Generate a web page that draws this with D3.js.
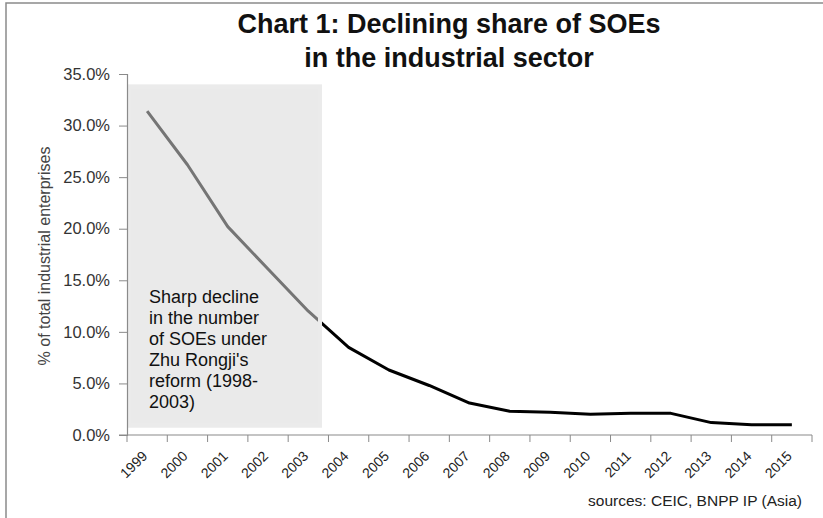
<!DOCTYPE html>
<html>
<head>
<meta charset="utf-8">
<script src="https://cdn.jsdelivr.net/npm/d3@7"></script>
<style>
  body { margin: 0; background: #fff; }
  text { font-family: "Liberation Sans", Arial, sans-serif; }
</style>
</head>
<body>
<div id="chart"></div>
<script>
const years = ['1999', '2000', '2001', '2002', '2003', '2004', '2005', '2006', '2007',
    '2008', '2009', '2010', '2011', '2012', '2013', '2014', '2015'];
// % of total industrial enterprises that are SOEs
const soeShare = [31.4, 26.2, 20.2, 16.1, 12.0, 8.5, 6.3, 4.8, 3.1,
    2.3, 2.2, 2.0, 2.1, 2.1, 1.2, 1.0, 1.0];
const yTicks = [0, 5, 10, 15, 20, 25, 30, 35];
const titleLines = ['Chart 1: Declining share of SOEs', 'in the industrial sector'];
const noteLines = ['Sharp decline', 'in the number', 'of SOEs under', "Zhu Rongji's", 'reform (1998-', '2003)'];
const source = 'sources: CEIC, BNPP IP (Asia)';

const width = 823, height = 518;
const plotLeft = 127, plotRight = 812, plotTop = 74, plotBottom = 435;

const svg = d3.select('#chart')
    .append('svg')
    .attr('width', width)
    .attr('height', height);

svg.append('rect')
    .attr('width', width)
    .attr('height', height)
    .attr('fill', '#fff');

// frame (cropped at right / bottom)
svg.append('rect')
    .attr('x', 6)
    .attr('y', 3)
    .attr('width', width + 20)
    .attr('height', height + 20)
    .attr('fill', 'none')
    .attr('stroke', '#8a8a8a')
    .attr('stroke-width', 1.5);

const x = d3.scaleBand()
    .domain(years)
    .range([plotLeft, plotRight]);

const y = d3.scaleLinear()
    .domain([0, 35])
    .range([plotBottom, plotTop]);

// title
svg.selectAll('.title')
    .data(titleLines)
    .enter()
    .append('text')
    .attr('class', 'title')
    .attr('x', 449)
    .attr('y', (d, i) => 33 + i * 34)
    .attr('text-anchor', 'middle')
    .attr('font-size', 27)
    .attr('font-weight', 'bold')
    .attr('fill', '#111')
    .text(d => d);

// series line
const line = d3.line()
    .x((d, i) => x(years[i]) + x.bandwidth() / 2)
    .y(d => y(d));

svg.append('path')
    .datum(soeShare)
    .attr('fill', 'none')
    .attr('stroke', '#000')
    .attr('stroke-width', 3)
    .attr('stroke-linejoin', 'round')
    .attr('d', line);

// translucent box over the reform years
svg.append('rect')
    .attr('x', x('1999') + 2)
    .attr('y', y(33.8))
    .attr('width', x('2003') + x.bandwidth() * 0.79 - x('1999') - 2)
    .attr('height', y(0.9) - y(33.8))
    .attr('fill', 'rgba(217,217,217,0.54)')
    .attr('stroke', '#ebebeb')
    .attr('stroke-width', 4);

svg.selectAll('.note')
    .data(noteLines)
    .enter()
    .append('text')
    .attr('class', 'note')
    .attr('x', 149)
    .attr('y', (d, i) => 303 + i * 21)
    .attr('font-size', 18)
    .attr('fill', '#111')
    .text(d => d);

// y axis
const yAxis = svg.append('g')
    .attr('transform', `translate(${plotLeft},0)`)
    .call(d3.axisLeft(y).tickValues(yTicks).tickSize(8).tickFormat(d => d.toFixed(1) + '%'));
yAxis.select('.domain').attr('stroke', '#8a8a8a').attr('stroke-width', 1.2);
yAxis.selectAll('.tick line').attr('stroke', '#8a8a8a');
yAxis.selectAll('.tick text')
    .attr('x', -17)
    .attr('font-size', 16.5)
    .attr('font-family', '"Liberation Sans", Arial, sans-serif')
    .attr('fill', '#333');

// x axis: ticks between categories
const xAxis = svg.append('g')
    .attr('transform', `translate(0,${plotBottom})`);
xAxis.append('line')
    .attr('x1', plotLeft - 8)
    .attr('x2', plotRight)
    .attr('stroke', '#8a8a8a')
    .attr('stroke-width', 1.2);
xAxis.selectAll('.xtick')
    .data(years.concat(['end']))
    .enter()
    .append('line')
    .attr('class', 'xtick')
    .attr('x1', d => d === 'end' ? plotRight : x(d))
    .attr('x2', d => d === 'end' ? plotRight : x(d))
    .attr('y1', 0)
    .attr('y2', 7)
    .attr('stroke', '#8a8a8a');
xAxis.selectAll('.xlabel')
    .data(years)
    .enter()
    .append('text')
    .attr('class', 'xlabel')
    .attr('text-anchor', 'end')
    .attr('font-size', 14)
    .attr('fill', '#222')
    .attr('transform', d => `translate(${x(d) + x.bandwidth() / 2 + 1},${22}) rotate(-45)`)
    .text(d => d);

// y axis title
svg.append('text')
    .attr('transform', 'translate(50,256) rotate(-90)')
    .attr('text-anchor', 'middle')
    .attr('font-size', 16)
    .attr('fill', '#444')
    .text('% of total industrial enterprises');

svg.append('text')
    .attr('x', 802)
    .attr('y', 506)
    .attr('text-anchor', 'end')
    .attr('font-size', 15.5)
    .attr('fill', '#222')
    .text(source);
</script>
</body>
</html>
